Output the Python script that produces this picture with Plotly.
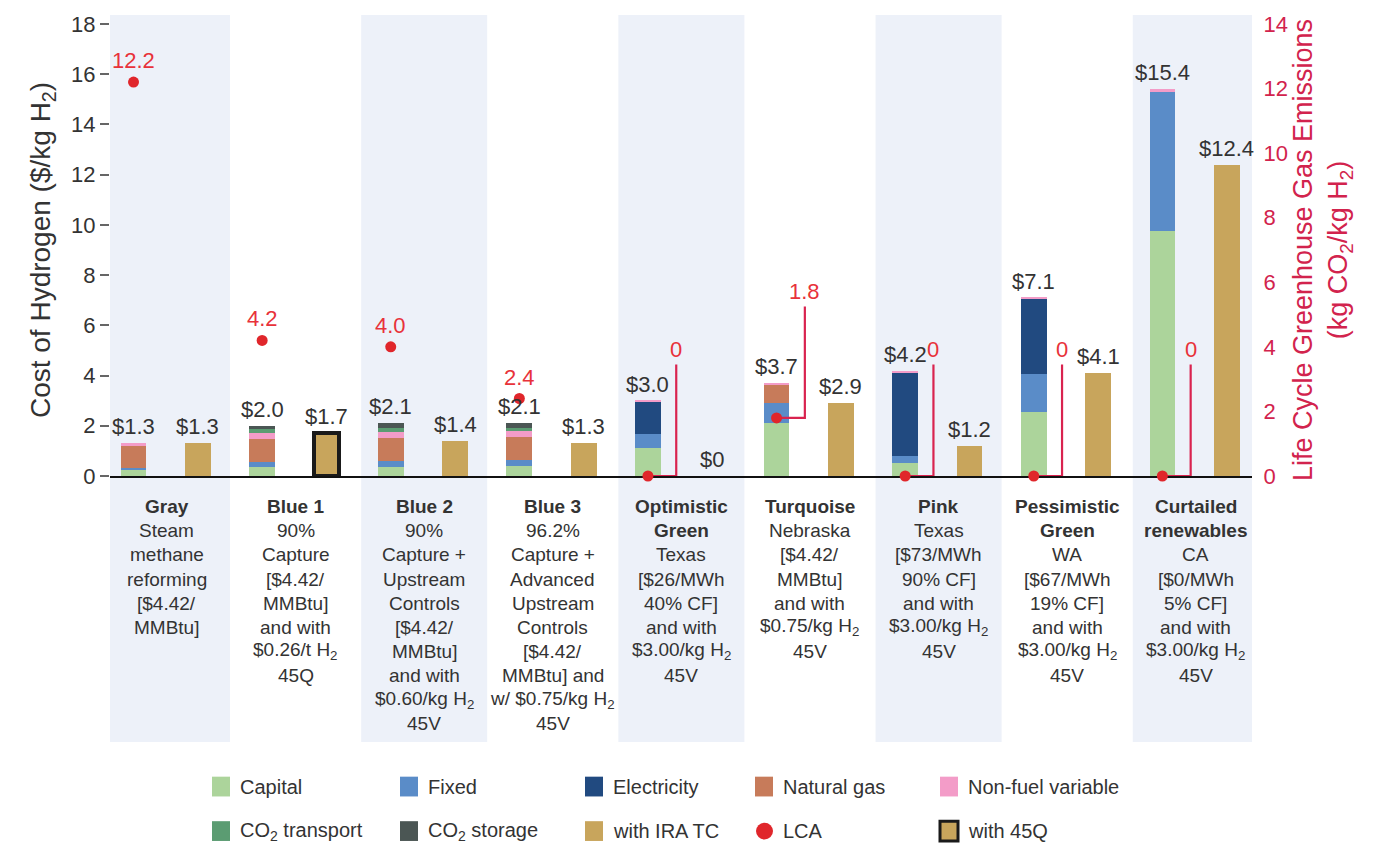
import plotly.graph_objects as go

# ---------------- data ----------------
categories = ["Gray", "Blue 1", "Blue 2", "Blue 3", "Optimistic Green",
              "Turquoise", "Pink", "Pessimistic Green", "Curtailed renewables"]

cat_heads = [["Gray"], ["Blue 1"], ["Blue 2"], ["Blue 3"], ["Optimistic", "Green"],
             ["Turquoise"], ["Pink"], ["Pessimistic", "Green"], ["Curtailed", "renewables"]]

cat_details = [
    ["Steam", "methane", "reforming", "[$4.42/", "MMBtu]"],
    ["90%", "Capture", "[$4.42/", "MMBtu]", "and with", "$0.26/t H<sub>2</sub>", "45Q"],
    ["90%", "Capture +", "Upstream", "Controls", "[$4.42/", "MMBtu]", "and with",
     "$0.60/kg H<sub>2</sub>", "45V"],
    ["96.2%", "Capture +", "Advanced", "Upstream", "Controls", "[$4.42/", "MMBtu] and",
     "w/ $0.75/kg H<sub>2</sub>", "45V"],
    ["Texas", "[$26/MWh", "40% CF]", "and with", "$3.00/kg H<sub>2</sub>", "45V"],
    ["Nebraska", "[$4.42/", "MMBtu]", "and with", "$0.75/kg H<sub>2</sub>", "45V"],
    ["Texas", "[$73/MWh", "90% CF]", "and with", "$3.00/kg H<sub>2</sub>", "45V"],
    ["WA", "[$67/MWh", "19% CF]", "and with", "$3.00/kg H<sub>2</sub>", "45V"],
    ["CA", "[$0/MWh", "5% CF]", "and with", "$3.00/kg H<sub>2</sub>", "45V"],
]

# cost components ($/kg H2), stacked bottom to top
capital       = [0.22, 0.35, 0.37, 0.40, 1.10, 2.10, 0.50, 2.53, 9.75]
fixed         = [0.11, 0.22, 0.23, 0.25, 0.58, 0.80, 0.28, 1.55, 5.58]
electricity   = [0.00, 0.00, 0.00, 0.00, 1.27, 0.00, 3.34, 2.97, 0.00]
natural_gas   = [0.86, 0.92, 0.92, 0.92, 0.00, 0.72, 0.00, 0.00, 0.00]
non_fuel      = [0.11, 0.22, 0.23, 0.21, 0.05, 0.08, 0.08, 0.05, 0.07]
co2_transport = [0.00, 0.15, 0.17, 0.15, 0.00, 0.00, 0.00, 0.00, 0.00]
co2_storage   = [0.00, 0.14, 0.18, 0.17, 0.00, 0.00, 0.00, 0.00, 0.00]

# cost after IRA tax credits ($/kg H2)
ira_tc  = [1.3, 1.7, 1.4, 1.3, 0.0, 2.9, 1.2, 4.1, 12.4]
has_45q = [False, True, False, False, False, False, False, False, False]

# life-cycle GHG emissions (kg CO2/kg H2)
lca        = [12.2, 4.2, 4.0, 2.4, 0.0, 1.8, 0.0, 0.0, 0.0]
lca_leader = [False, False, False, False, True, True, True, True, True]

shaded = [True, False, True, False, True, False, True, False, True]

# ---------------- styling ----------------
FONT = "Liberation Sans"
TEXT = "#333333"
RED_DOT = "#e0262b"
RED_LINE = "#d9234f"
RED_TEXT = "#e8323a"
RIGHT_AXIS = "#d2234d"
BAND = "#edf1f9"
IRA_COLOR = "#c8a55c"

component_traces = [
    ("Capital", capital, "#acd49b"),
    ("Fixed", fixed, "#5a8cc8"),
    ("Electricity", electricity, "#214a80"),
    ("Natural gas", natural_gas, "#c77b5a"),
    ("Non-fuel variable", non_fuel, "#f39cc8"),
    ("CO<sub>2</sub> transport", co2_transport, "#5b9c72"),
    ("CO<sub>2</sub> storage", co2_storage, "#4b5654"),
]

W, H = 1373, 849
PL, PR, PT, PB = 110, 1252, 19, 476          # plot-area edges in pixels
X_RANGE = [-0.443, 8.437]
STACK_OFF, IRA_OFF, BAR_W = -0.26, 0.24, 0.2
LEADER_DX, LEADER_RISE = 0.22, 3.45


def paper_x(px):
    return (px - PL) / (PR - PL)


def paper_y(py):
    return (PB - py) / (PB - PT)


def data_to_paper_x(x):
    return (x - X_RANGE[0]) / (X_RANGE[1] - X_RANGE[0])


n = len(categories)
idx = list(range(n))
x_stack = [i + STACK_OFF for i in idx]
x_ira = [i + IRA_OFF for i in idx]

fig = go.Figure()

# stacked cost components
for name, vals, color in component_traces:
    fig.add_trace(go.Bar(x=x_stack, y=vals, width=BAR_W, name=name,
                         marker=dict(color=color, line=dict(width=0)),
                         showlegend=False))

# bars after IRA tax credit
ira_x = [x for x, q in zip(x_ira, has_45q) if not q]
ira_y = [v for v, q in zip(ira_tc, has_45q) if not q]
fig.add_trace(go.Bar(x=ira_x, y=ira_y, width=BAR_W, name="with IRA TC",
                     marker=dict(color=IRA_COLOR, line=dict(width=0)), showlegend=False))
q_x = [x for x, q in zip(x_ira, has_45q) if q]
q_y = [v for v, q in zip(ira_tc, has_45q) if q]
fig.add_trace(go.Bar(x=q_x, y=q_y, width=BAR_W, name="with 45Q",
                     marker=dict(color=IRA_COLOR, line=dict(width=4, color="#1a1a1a")),
                     showlegend=False))

# leader lines for LCA values sitting on the baseline
for i in idx:
    if lca_leader[i]:
        xs = x_stack[i]
        fig.add_trace(go.Scatter(
            x=[xs, xs + LEADER_DX, xs + LEADER_DX],
            y=[lca[i], lca[i], lca[i] + LEADER_RISE],
            yaxis="y2", mode="lines", cliponaxis=False,
            line=dict(color=RED_LINE, width=2.2), showlegend=False, hoverinfo="skip"))

# LCA points
fig.add_trace(go.Scatter(x=x_stack, y=lca, yaxis="y2", mode="markers", name="LCA",
                         cliponaxis=False,
                         marker=dict(color=RED_DOT, size=11), showlegend=False))

annotations = []
shapes = []

# totals above bars
totals = [round(sum(c[1][i] for c in component_traces), 2) for i in idx]


def money(v):
    return "$0" if v == 0 else "${:.1f}".format(v)


LABEL_SIZE = 22
for i in idx:
    annotations.append(dict(x=x_stack[i], y=totals[i], xref="x", yref="y", text=money(totals[i]),
                            showarrow=False, yanchor="bottom", yshift=2,
                            font=dict(size=LABEL_SIZE, color=TEXT, family=FONT)))
    annotations.append(dict(x=x_ira[i], y=ira_tc[i], xref="x", yref="y", text=money(ira_tc[i]),
                            showarrow=False, yanchor="bottom", yshift=2,
                            font=dict(size=LABEL_SIZE, color=TEXT, family=FONT)))
    lab = "0" if lca[i] == 0 else "{:.1f}".format(lca[i])
    if lca_leader[i]:
        annotations.append(dict(x=x_stack[i] + LEADER_DX, y=lca[i] + LEADER_RISE, xref="x", yref="y2",
                                text=lab, showarrow=False, yanchor="bottom", yshift=1,
                                font=dict(size=LABEL_SIZE, color=RED_TEXT, family=FONT)))
    else:
        annotations.append(dict(x=x_stack[i], y=lca[i], xref="x", yref="y2", text=lab,
                                showarrow=False, yanchor="bottom", yshift=7,
                                font=dict(size=LABEL_SIZE, color=RED_TEXT, family=FONT)))

# category descriptions below the axis
LINE0, LINE_STEP = 507, 24.4
for i in idx:
    lines = ["<b>{}</b>".format(h) for h in cat_heads[i]] + cat_details[i]
    for k, line in enumerate(lines):
        annotations.append(dict(x=i, xref="x", y=paper_y(LINE0 + LINE_STEP * k), yref="paper",
                                text=line, showarrow=False, xanchor="center", yanchor="middle",
                                font=dict(size=19, color=TEXT, family=FONT)))

# alternating background bands
for i in idx:
    if shaded[i]:
        x0 = max(i - 0.49, X_RANGE[0])
        x1 = min(i + 0.49, X_RANGE[1])
        shapes.append(dict(type="rect", xref="paper", yref="paper",
                           x0=data_to_paper_x(x0), x1=data_to_paper_x(x1),
                           y0=paper_y(745), y1=paper_y(10),
                           fillcolor=BAND, line=dict(width=0), layer="below"))

# legend
legend_items = [
    ("Capital", "#acd49b", "rect"), ("Fixed", "#5a8cc8", "rect"),
    ("Electricity", "#214a80", "rect"), ("Natural gas", "#c77b5a", "rect"),
    ("Non-fuel variable", "#f39cc8", "rect"),
    ("CO<sub>2</sub> transport", "#5b9c72", "rect"), ("CO<sub>2</sub> storage", "#4b5654", "rect"),
    ("with IRA TC", IRA_COLOR, "rect"), ("LCA", RED_DOT, "dot"), ("with 45Q", IRA_COLOR, "framed"),
]
LEG_COLS = [212, 400, 585, 755, 940]
LEG_ROWS = [790, 835]
SW = 18
for j, (label, color, kind) in enumerate(legend_items):
    cx = LEG_COLS[j % 5]
    cy = LEG_ROWS[j // 5]
    if kind == "dot":
        shapes.append(dict(type="circle", xref="paper", yref="paper",
                           x0=paper_x(cx + 1), x1=paper_x(cx + SW),
                           y0=paper_y(cy + 8.5), y1=paper_y(cy - 8.5),
                           fillcolor=color, line=dict(width=0)))
    else:
        lw = 3 if kind == "framed" else 0
        shapes.append(dict(type="rect", xref="paper", yref="paper",
                           x0=paper_x(cx), x1=paper_x(cx + SW),
                           y0=paper_y(cy + SW / 2 + 1), y1=paper_y(cy - SW / 2 - 1),
                           fillcolor=color, line=dict(width=lw, color="#1a1a1a")))
    annotations.append(dict(x=paper_x(cx + SW + 8), y=paper_y(cy), xref="paper", yref="paper",
                            text=label, showarrow=False, xanchor="left", yanchor="middle",
                            font=dict(size=20, color=TEXT, family=FONT)))

fig.update_layout(
    width=W, height=H, autosize=False,
    margin=dict(l=PL, r=W - PR, t=PT, b=H - PB, pad=0),
    paper_bgcolor="white", plot_bgcolor="rgba(0,0,0,0)",
    barmode="stack", bargap=0,
    font=dict(family=FONT, color=TEXT),
    showlegend=False,
    annotations=annotations, shapes=shapes,
    xaxis=dict(range=X_RANGE, showticklabels=False, ticks="", showgrid=False, zeroline=False,
               showline=True, linecolor="#111111", linewidth=2, layer="below traces"),
    yaxis=dict(range=[0, 18], dtick=2, ticks="outside", ticklen=9, tickwidth=2,
               tickcolor="#666666", showgrid=False, zeroline=False, showline=False,
               tickfont=dict(size=22, color=TEXT, family=FONT),
               title=dict(text="Cost of Hydrogen ($/kg H<sub>2</sub>)", standoff=12,
                          font=dict(size=28, color=TEXT, family=FONT)),
               layer="below traces"),
    yaxis2=dict(range=[0, 14], dtick=2, overlaying="y", side="right", showgrid=False,
                zeroline=False, showline=False, ticks="outside", ticklen=6,
                tickcolor="rgba(0,0,0,0)",
                tickfont=dict(size=22, color=RIGHT_AXIS, family=FONT),
                title=dict(text="Life Cycle Greenhouse Gas Emissions<br>(kg CO<sub>2</sub>/kg H<sub>2</sub>)",
                           standoff=6, font=dict(size=27, color=RIGHT_AXIS, family=FONT)),
                layer="below traces"),
)

fig.write_html("out.html")
